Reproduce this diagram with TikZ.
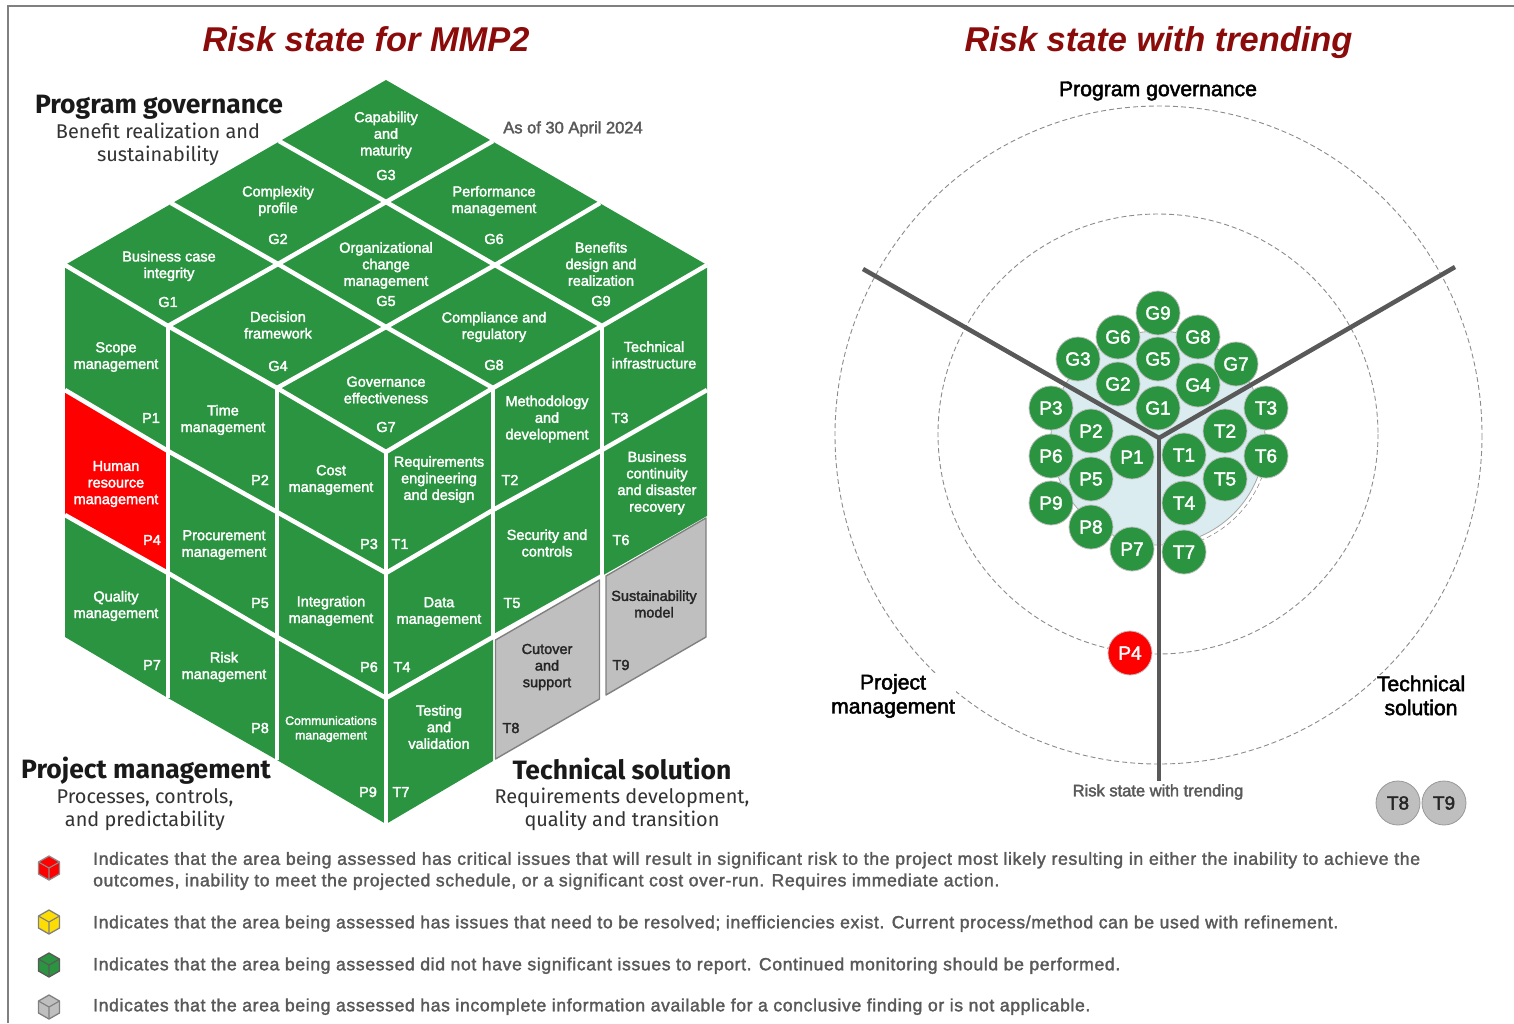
\documentclass[tikz,border=0pt]{standalone}
\usepackage{fontspec}
\setmainfont{Liberation Sans}
\newfontfamily\lbf[FakeBold=2.2]{Liberation Sans}
\newfontfamily\legf[FakeBold=1.8,LetterSpace=3.6]{Liberation Sans}
\newfontfamily\hd{Fira Sans}
\newfontfamily\hdr{Fira Sans}
\definecolor{cgreen}{HTML}{2B9440}
\definecolor{cgray}{HTML}{BFBFBF}
\definecolor{cedge}{HTML}{808080}
\definecolor{ctext}{HTML}{595959}
\definecolor{ctitle}{HTML}{8B0A0A}
\definecolor{cdisc}{HTML}{DAECF0}
\newcommand\labfont{\fontsize{14.5}{16.6}\selectfont\lbf}
\tikzset{
 lab/.style={font=\labfont,text=white,align=center,inner sep=0pt},
 labd/.style={lab,text=black!85},
 title/.style={font=\fontsize{34.4}{38}\selectfont\bfseries\itshape,text=ctitle,inner sep=0pt,anchor=base},
 head/.style={font=\fontsize{26.5}{30}\selectfont\hd\bfseries,text=black!90,inner sep=0pt},
 subh/.style={font=\fontsize{19.9}{23}\selectfont\hdr,text=black!80,align=center,inner sep=0pt},
 radl/.style={font=\fontsize{21.2}{24}\selectfont\lbf,text=black,align=center,fill=white,inner sep=1pt},
 leg/.style={font=\fontsize{17.6}{21.5}\selectfont\legf,text=ctext,align=left,anchor=west,inner sep=0pt},
 note/.style={lab,text=ctext,font=\fontsize{16.5}{18}\selectfont\lbf},
 grn/.style={fill=cgreen},
 sep/.style={draw=white,line width=4.5pt,line join=miter},
 bub/.style={circle,minimum size=44pt,inner sep=0pt,draw=black!25,line width=0.8pt,fill=cgreen,text=white,font=\fontsize{19}{20}\selectfont\lbf},
 bubr/.style={bub,fill=red},
 bubg/.style={bub,fill=cgray,text=black!85,draw=black!40},
 axisl/.style={draw=ctext,line width=4.5pt},
 ring/.style={draw=black!45,line width=0.9pt,dash pattern=on 5pt off 3pt},
 face/.style={draw=#1,line width=1.4pt,line join=round}
}
\newcommand\legcube[4]{%
 \coordinate (#1) at (49,#2);
 \filldraw[fill=#3,draw=#4,line width=1.3pt,line join=round]
   ([yshift=12pt]#1) -- ([xshift=10.5pt,yshift=6pt]#1) -- ([xshift=10.5pt,yshift=-6pt]#1) -- ([yshift=-12pt]#1) -- ([xshift=-10.5pt,yshift=-6pt]#1) -- ([xshift=-10.5pt,yshift=6pt]#1) -- cycle;
 \draw[draw=#4,line width=1.1pt] ([xshift=-10.5pt,yshift=6pt]#1) -- (#1) -- ([xshift=10.5pt,yshift=6pt]#1) (#1) -- ([yshift=-12pt]#1);
}
\begin{document}
\begin{tikzpicture}[x=1pt,y=-1pt]
\useasboundingbox (0,0) rectangle (1514,1023);
\fill[white] (0,0) rectangle (1514,1023);
\draw[draw=cedge,line width=1.4pt] (8,1023) -- (8,6) -- (1514,6);
\node[title] (t1) at (366,51) {Risk state for MMP2};
\node[title] (t2) at (1158.5,51) {Risk state with trending};
% --- cube faces
\fill[grn] (386,80) -- (707,265) -- (386,452) -- (65,265) -- cycle;
\fill[grn] (65,265) -- (386,452) -- (386,824) -- (277,760) -- (168,698) -- (65,637) -- cycle;
\fill[grn] (707,265) -- (386,452) -- (386,824) -- (493,761) -- (493,638) -- (707,516) -- cycle;
\fill[red] (65,390) -- (168,451) -- (168,573) -- (65,515) -- cycle;
% separators
\draw[sep] (279,141) -- (386,202) -- (495,265) -- (602,326);
\draw[sep] (171,203) -- (278,264) -- (386,327) -- (493,388);
\draw[sep] (493,141) -- (386,202) -- (278,264) -- (168,326);
\draw[sep] (600,203) -- (495,265) -- (386,327) -- (277,388);
\draw[sep] (65,265) -- (168,326) -- (277,388) -- (386,452) -- (493,388) -- (602,326) -- (707,265);
\draw[sep] (168,326) -- (168,698);
\draw[sep] (277,388) -- (277,760);
\draw[sep] (386,452) -- (386,824);
\draw[sep] (493,388) -- (493,638);
\draw[sep] (602,326) -- (602,576);
\draw[sep] (65,390) -- (168,451) -- (277,512) -- (386,573) -- (493,510) -- (602,450) -- (707,390);
\draw[sep] (65,515) -- (168,573) -- (277,637) -- (386,698) -- (493,637) -- (602,576);
% grey cells
\filldraw[fill=cgray,face=cedge] (495.5,640) -- (599.5,580) -- (599.5,699) -- (495.5,759) -- cycle;
\filldraw[fill=cgray,face=cedge] (606,576) -- (706,518) -- (706,637) -- (606,695) -- cycle;
% top
\node[lab] (g3) at (386,135) {Capability\\and\\maturity};
\node[lab] (g3c) at (386,175) {G3};
\node[lab] (g2) at (278,201) {Complexity\\profile};
\node[lab] (g2c) at (278,239) {G2};
\node[lab] (g1) at (169,266) {Business case\\integrity};
\node[lab] (g1c) at (168,302) {G1};
\node[lab] (g6) at (494,201) {Performance\\management};
\node[lab] (g6c) at (494,239) {G6};
\node[lab] (g5) at (386,265.5) {Organizational\\change\\management};
\node[lab] (g5c) at (386,301) {G5};
\node[lab] (g4) at (278,325) {Decision\\framework};
\node[lab] (g4c) at (278,366) {G4};
\node[lab] (g9) at (601,264) {Benefits\\design and\\realization};
\node[lab] (g9c) at (601,301) {G9};
\node[lab] (g8) at (494,327) {Compliance and\\regulatory};
\node[lab] (g8c) at (494,365) {G8};
\node[lab] (g7) at (386,390) {Governance\\effectiveness};
\node[lab] (g7c) at (386,427) {G7};
% left
\node[lab] (p1) at (116,357) {Scope\\management};
\node[lab] (p1c) at (151,418) {P1};
\node[lab] (p2) at (223,420) {Time\\management};
\node[lab] (p2c) at (260,480) {P2};
\node[lab] (p3) at (331,480) {Cost\\management};
\node[lab] (p3c) at (369,544) {P3};
\node[lab] (p4) at (116,484) {Human\\resource\\management};
\node[lab] (p4c) at (152,540) {P4};
\node[lab] (p5) at (224,545) {Procurement\\management};
\node[lab] (p5c) at (260,603) {P5};
\node[lab] (p6) at (331,611) {Integration\\management};
\node[lab] (p6c) at (369,667) {P6};
\node[lab] (p7) at (116,606) {Quality\\management};
\node[lab] (p7c) at (152,665) {P7};
\node[lab] (p8) at (224,667) {Risk\\management};
\node[lab] (p8c) at (260,728) {P8};
\node[lab,font=\fontsize{12.3}{14.5}\selectfont\lbf] (p9) at (331,729) {Communications\\management};
\node[lab] (p9c) at (368,792) {P9};
% right
\node[lab] (t1n) at (439,479.5) {Requirements\\engineering\\and design};
\node[lab] (t1c) at (400,544) {T1};
\node[lab] (t2n) at (547,419) {Methodology\\and\\development};
\node[lab] (t2c) at (510,480) {T2};
\node[lab] (t3n) at (654,355) {Technical\\infrastructure};
\node[lab] (t3c) at (620,418) {T3};
\node[lab] (t4n) at (439,612) {Data\\management};
\node[lab] (t4c) at (402,667) {T4};
\node[lab] (t5n) at (547,543) {Security and\\controls};
\node[lab] (t5c) at (512,603) {T5};
\node[lab] (t6n) at (657,483) {Business\\continuity\\and disaster\\recovery};
\node[lab] (t6c) at (621,540) {T6};
\node[lab] (t7n) at (439,727) {Testing\\and\\validation};
\node[lab] (t7c) at (401,792) {T7};
\node[labd] (t8n) at (547,667) {Cutover\\and\\support};
\node[labd] (t8c) at (511,728) {T8};
\node[labd] (t9n) at (654,604) {Sustainability\\model};
\node[labd] (t9c) at (621,665) {T9};
% side headings
\node[head] (hpg) at (159,107.5) {Program governance};
\node[subh] (spg) at (158,144.5) {Benefit realization and\\sustainability};
\node[head] (hpm) at (146,771) {Project management};
\node[subh] (spm) at (145,809.5) {Processes, controls,\\and predictability};
\node[head] (hts) at (622,769) {Technical solution};
\node[subh] (sts) at (622,809.5) {Requirements development,\\quality and transition};
\node[note] (asof) at (573,129) {As of 30 April 2024};
% --- radar
\draw[ring] (1158.5,435) ellipse (323.5 and 329);
\draw[ring] (1158,434) circle (220);
\coordinate (ctr) at (1159,438);
\coordinate (axg) at (863,269);
\coordinate (axt) at (1455,267);
\coordinate (axb) at (1159,781);
\filldraw[fill=cdisc,draw=black!35,line width=0.8pt] (1158,438) circle (107);
\draw[ring,line width=0.6pt] plot[domain=20:68,samples=30] ({1158+111*cos(\x)},{438+111*sin(\x)});
\node[radl] (rpg) at (1158,91) {Program governance};
\node[radl] (rpm) at (893,696) {Project\\management};
\node[radl] (rts) at (1421,695.5) {Technical\\solution};
\node[note] (rst) at (1158,792) {Risk state with trending};
\draw[axisl] (axg) -- (ctr);
\draw[axisl] (axt) -- (ctr);
\node[bub] (bg9) at (1158,313) {G9};
\node[bub] (bg6) at (1118,337) {G6};
\node[bub] (bg8) at (1198,337) {G8};
\node[bub] (bg3) at (1078,359) {G3};
\node[bub] (bg5) at (1158,359) {G5};
\node[bub] (bg7) at (1236,364) {G7};
\node[bub] (bg2) at (1118,384) {G2};
\node[bub] (bg4) at (1198,385) {G4};
\node[bub] (bg1) at (1158,408) {G1};
\node[bub] (bp3) at (1051,408) {P3};
\node[bub] (bp2) at (1091,431) {P2};
\node[bub] (bp1) at (1132,457) {P1};
\node[bub] (bp6) at (1051,456) {P6};
\node[bub] (bp5) at (1091,479) {P5};
\node[bub] (bp9) at (1051,503) {P9};
\node[bub] (bp8) at (1091,527) {P8};
\node[bub] (bp7) at (1132,549) {P7};
\draw[axisl] (ctr) -- (axb);
\node[bub] (bt1) at (1184,455) {T1};
\node[bub] (bt2) at (1225,431) {T2};
\node[bub] (bt3) at (1266,408) {T3};
\node[bub] (bt6) at (1266,456) {T6};
\node[bub] (bt5) at (1225,479) {T5};
\node[bub] (bt4) at (1184,503) {T4};
\node[bub] (bt7) at (1184,552) {T7};
\node[bubr] (bp4) at (1130,653) {P4};
\node[bubg] (bt8) at (1398,803) {T8};
\node[bubg] (bt9) at (1444,803) {T9};
% --- legend
\legcube{cr}{868}{red}{black!45}
\legcube{cy}{922}{yellow!80!orange}{cedge}
\legcube{cg}{965}{cgreen}{ctext}
\legcube{ck}{1007}{cgray}{cedge}
\node[leg] (lr) at (93,871) {\makebox[1327pt][s]{Indicates that the area being assessed has critical issues that will result in significant risk to the project most likely resulting in either the inability to achieve the}\\outcomes, inability to meet the projected schedule, or a significant cost over-run.  Requires immediate action.};
\node[leg] (ly) at (93,923.7) {Indicates that the area being assessed has issues that need to be resolved; inefficiencies exist.  Current process/method can be used with refinement.};
\node[leg] (lg) at (93,965.7) {Indicates that the area being assessed did not have significant issues to report.  Continued monitoring should be performed.};
\node[leg] (lk) at (93,1006.7) {Indicates that the area being assessed has incomplete information available for a conclusive finding or is not applicable.};
\end{tikzpicture}
\end{document}
